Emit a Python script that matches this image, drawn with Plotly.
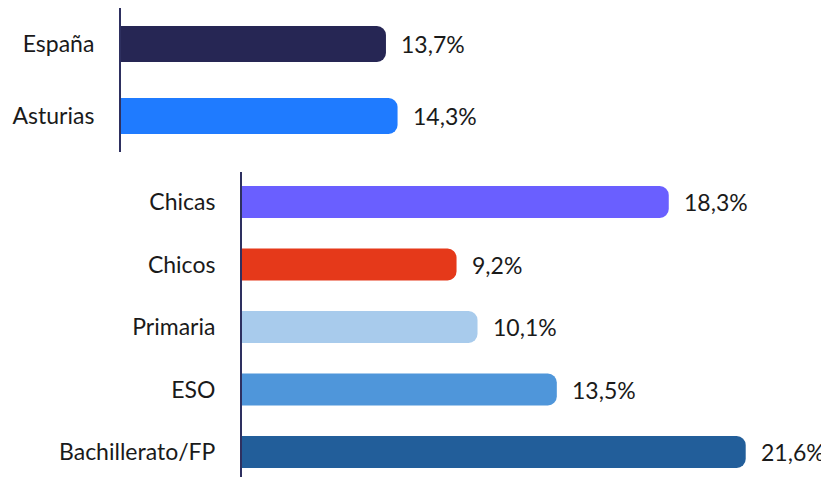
import plotly.graph_objects as go

# Data
top_categories = ["España", "Asturias"]
top_values = [13.7, 14.3]
top_labels = ["13,7%", "14,3%"]
top_colors = ["#262654", "#1F7BFF"]

bottom_categories = ["Chicas", "Chicos", "Primaria", "ESO", "Bachillerato/FP"]
bottom_values = [18.3, 9.2, 10.1, 13.5, 21.6]
bottom_labels = ["18,3%", "9,2%", "10,1%", "13,5%", "21,6%"]
bottom_colors = ["#6A5FFF", "#E5391A", "#A8CBEC", "#4F96DA", "#225E9A"]

W, H = 829, 477
OFF = 8  # page body margin
FONT = "Lato"
TXT = "#1a1a1a"
AXIS = "#2E3060"


def px_x(p):
    return (p - OFF) / W


def px_y(p):
    return 1 - (p - OFF) / H


fig = go.Figure()
fig.add_trace(go.Bar(
    x=top_values, y=top_categories, orientation="h",
    marker=dict(color=top_colors, cornerradius=9, line=dict(width=0)),
    width=0.5, xaxis="x", yaxis="y", hoverinfo="skip",
))
fig.add_trace(go.Bar(
    x=bottom_values, y=bottom_categories, orientation="h",
    marker=dict(color=bottom_colors, cornerradius=9, line=dict(width=0)),
    width=0.51, xaxis="x2", yaxis="y2", hoverinfo="skip",
))

annotations = []
for c, v, t in zip(top_categories, top_values, top_labels):
    annotations.append(dict(x=v, y=c, xref="x", yref="y", text=t, showarrow=False,
                            xanchor="left", xshift=13, font=dict(family=FONT, size=23, color=TXT)))
for c, v, t in zip(bottom_categories, bottom_values, bottom_labels):
    annotations.append(dict(x=v, y=c, xref="x2", yref="y2", text=t, showarrow=False,
                            xanchor="left", xshift=13, font=dict(family=FONT, size=23, color=TXT)))

common_x = dict(showgrid=False, zeroline=False, showticklabels=False, showline=False, fixedrange=True)
common_y = dict(showgrid=False, zeroline=False, showline=True, linecolor=AXIS, linewidth=2,
                ticks="outside", ticklen=20, tickcolor="rgba(0,0,0,0)",
                tickfont=dict(family=FONT, size=23, color=TXT), fixedrange=True)

top_x0 = 121
bot_x0 = 242
fig.update_layout(
    width=W, height=H,
    margin=dict(l=0, r=0, t=0, b=0),
    paper_bgcolor="white", plot_bgcolor="white",
    showlegend=False,
    annotations=annotations,
    xaxis=dict(domain=[px_x(top_x0), 1], range=[0, (W + OFF - top_x0) / 19.34], anchor="y", **common_x),
    yaxis=dict(domain=[px_y(152), 1], range=[1.5, -0.5], anchor="x",
               type="category", **common_y),
    xaxis2=dict(domain=[px_x(bot_x0), 1], range=[0, (W + OFF - bot_x0) / 23.32], anchor="y2", **common_x),
    yaxis2=dict(domain=[px_y(477), px_y(172)], range=[4.4, -0.48], anchor="x2",
                type="category", **common_y),
)

fig.write_html("out.html")
